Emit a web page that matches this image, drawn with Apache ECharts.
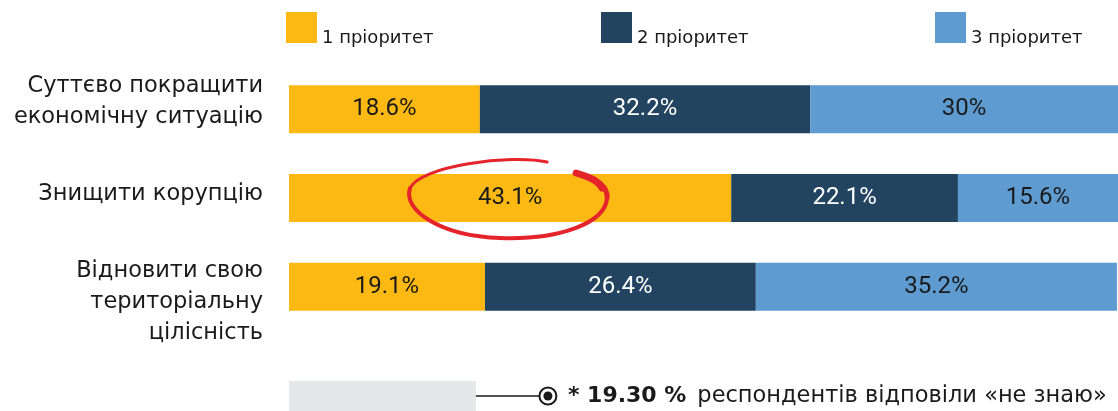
<!DOCTYPE html>
<html>
<head>
<meta charset="utf-8">
<script src="https://cdn.jsdelivr.net/npm/echarts@6/dist/echarts.min.js"></script>
<style>
  html, body { margin: 0; padding: 0; background: #fff; }
  #chart { width: 1118px; height: 411px; }
</style>
</head>
<body>
<div id="chart"></div>
<script>
// дані
var categories = ['Суттєво покращити\nекономічну ситуацію', 'Знищити корупцію', 'Відновити свою\nтериторіальну\nцілісність'];
var seriesNames = ['1 пріоритет', '2 пріоритет', '3 пріоритет'];
var priority1 = [18.6, 43.1, 19.1];
var priority2 = [32.2, 22.1, 26.4];
var priority3 = [30, 15.6, 35.2];
var dontKnow = [19.3];

var colors = ['#FDB913', '#224461', '#5E9BD0'];
var labelColors = ['#1a1a1a', '#ffffff', '#1a1a1a'];
var legendLeft = [286, 601, 935];

var myChart = echarts.init(document.getElementById('chart'));

function makeSeries(name, data, i) {
    return {
        name: name,
        type: 'bar',
        stack: 'total',
        barWidth: 48,
        xAxisIndex: 0,
        yAxisIndex: 0,
        itemStyle: { color: colors[i] },
        label: {
            show: true,
            position: 'inside',
            formatter: function (p) { return p.value + '%'; },
            color: labelColors[i],
            fontFamily: 'Roboto',
            fontSize: 24
        },
        data: data
    };
}

// зсув підписів категорій по вертикалі (розпірки)
function catLabel(value, index) {
    if (index === 0) return value + '\n{sp|}';
    if (index === 1) return value + '\n{sp2|}';
    return '{sp3|}\n' + value;
}

var option = {
    animation: false,
    legend: seriesNames.map(function (n, i) {
        return {
            data: [n],
            left: legendLeft[i],
            top: 12,
            padding: 0,
            icon: 'rect',
            itemWidth: 31,
            itemHeight: 31,
            itemGap: 6,
            selectedMode: false,
            formatter: '{a|{name}}',
            textStyle: {
                rich: {
                    a: {
                        fontFamily: 'DejaVu Sans',
                        fontSize: 18,
                        color: '#1a1a1a',
                        padding: [21, 0, 0, 0]
                    }
                }
            }
        };
    }),
    grid: [
        { left: 289, right: 0, top: 65, height: 266 },
        { left: 289, right: 0, top: 381, height: 30 }
    ],
    xAxis: [
        { type: 'value', gridIndex: 0, min: 0, max: 80.8, show: false },
        { type: 'value', gridIndex: 1, min: 0, max: 85.6, show: false }
    ],
    yAxis: [
        {
            type: 'category',
            gridIndex: 0,
            inverse: true,
            data: categories,
            axisLine: { show: false },
            axisTick: { show: false },
            axisLabel: {
                margin: 26,
                fontFamily: 'DejaVu Sans',
                fontSize: 22.5,
                lineHeight: 31,
                color: '#1a1a1a',
                align: 'right',
                formatter: catLabel,
                rich: {
                    sp: { height: 16, lineHeight: 16, fontSize: 1 },
                    sp2: { height: 8, lineHeight: 8, fontSize: 1 },
                    sp3: { height: 30, lineHeight: 30, fontSize: 1 }
                }
            }
        },
        {
            type: 'category',
            gridIndex: 1,
            data: ['не знаю'],
            show: false
        }
    ],
    series: [
        makeSeries(seriesNames[0], priority1, 0),
        makeSeries(seriesNames[1], priority2, 1),
        makeSeries(seriesNames[2], priority3, 2),
        {
            name: 'не знаю',
            type: 'bar',
            xAxisIndex: 1,
            yAxisIndex: 1,
            barWidth: 30,
            itemStyle: { color: '#E6E7E8' },
            label: {
                show: true,
                position: 'right',
                distance: 92,
                formatter: function (p) {
                    return '{b|* ' + p.value.toFixed(2) + ' %}{r|респондентів відповіли «не знаю»}';
                },
                rich: {
                    b: { fontFamily: 'DejaVu Sans', fontWeight: 'bold', fontSize: 22, color: '#1a1a1a' },
                    r: { fontFamily: 'DejaVu Sans', fontSize: 22.5, color: '#1a1a1a', padding: [0, 0, 0, 11] }
                }
            },
            data: dontKnow
        }
    ]
};

myChart.setOption(option);

// лінія з кружечком та червоне коло навколо 43.1%
var end = myChart.convertToPixel({ xAxisIndex: 1, yAxisIndex: 1 }, [dontKnow[0], 0]);
var c = myChart.convertToPixel({ xAxisIndex: 0, yAxisIndex: 0 }, [priority1[1] / 2, 1]);

var red = '#E4232B';
function stroke(seg, w) {
    return {
        type: 'bezierCurve',
        x: c[0],
        y: c[1],
        z: 100,
        shape: { x1: seg[0], y1: seg[1], cpx1: seg[2], cpy1: seg[3], cpx2: seg[4], cpy2: seg[5], x2: seg[6], y2: seg[7] },
        style: { fill: null, stroke: red, lineWidth: w, lineCap: 'round' }
    };
}

myChart.setOption({
    graphic: [
        {
            type: 'line',
            z: 100,
            shape: { x1: end[0], y1: end[1], x2: end[0] + 63, y2: end[1] },
            style: { stroke: '#1a1a1a', lineWidth: 1.5 }
        },
        {
            type: 'circle',
            z: 100,
            shape: { cx: end[0] + 72, cy: end[1], r: 8.5 },
            style: { fill: '#fff', stroke: '#1a1a1a', lineWidth: 2 }
        },
        {
            type: 'circle',
            z: 101,
            shape: { cx: end[0] + 72, cy: end[1], r: 4.5 },
            style: { fill: '#1a1a1a' }
        },
        stroke([37, -36, 0, -44, -90, -32, -100, -10], 3),
        stroke([-100, -10, -108, 12, -70, 38, -10, 40], 4),
        stroke([-10, 40, 50, 42, 95, 25, 97, 0], 4),
        stroke([97, 0, 98, -12, 85, -20, 66, -25], 5),
        stroke([92, -10, 88, -17, 80, -21, 66, -25], 7)
    ]
});
</script>
</body>
</html>
